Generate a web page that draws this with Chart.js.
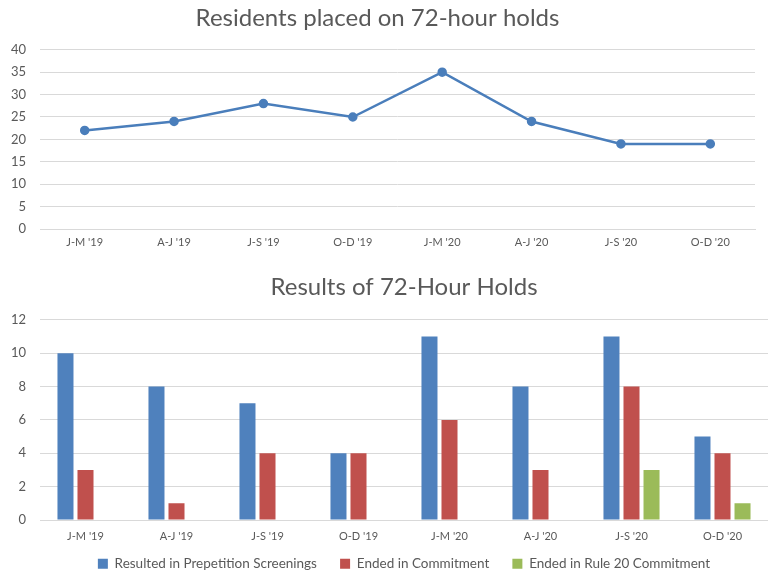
<!DOCTYPE html>
<html>
<head>
<meta charset="utf-8">
<script src="https://cdn.jsdelivr.net/npm/chart.js@4"></script>
<style>
  html, body { margin: 0; padding: 0; background: #fff; }
  #wrap { position: relative; width: 768px; height: 575px; }
  .box { position: absolute; left: 0; width: 768px; }
</style>
</head>
<body>
<div id="wrap">
  <div class="box" style="top:0;height:258px"><canvas id="holdsChart"></canvas></div>
  <div class="box" style="top:258px;height:317px"><canvas id="resultsChart"></canvas></div>
</div>
<script>
// Quarter labels shared by both charts
const quarters = ["J-M '19", "A-J '19", "J-S '19", "O-D '19", "J-M '20", "A-J '20", "J-S '20", "O-D '20"];

// Residents placed on 72-hour holds
const holdCounts = [22, 24, 28, 25, 35, 24, 19, 19];

// Results of 72-hour holds
const prepetitionScreenings = [10, 8, 7, 4, 11, 8, 11, 5];
const endedInCommitment = [3, 1, 4, 4, 6, 3, 8, 4];
const endedInRule20 = [0, 0, 0, 0, 0, 0, 3, 1];

const FONT = 'Lato, "Open Sans", sans-serif';
const TEXT = '#595959';
const GRID = '#D9D9D9';

Chart.defaults.font.family = FONT;
Chart.defaults.color = TEXT;
Chart.defaults.animation = false;

// keep the y axis a fixed width so the plot starts at x=40
function fixWidth(scale) {
  scale.width = 40;
}

new Chart(document.getElementById('holdsChart'), {
  type: 'line',
  data: {
    labels: quarters,
    datasets: [{
      label: 'Residents placed on 72-hour holds',
      data: holdCounts,
      borderColor: '#4A7EBB',
      backgroundColor: '#4A7EBB',
      borderWidth: 2.5,
      pointRadius: 3.5,
      tension: 0
    }]
  },
  options: {
    responsive: true,
    maintainAspectRatio: false,
    layout: { padding: { left: 0, right: 13, top: 0, bottom: 0 } },
    plugins: {
      legend: { display: false },
      tooltip: { enabled: false },
      title: {
        display: true,
        text: 'Residents placed on 72-hour holds',
        color: TEXT,
        font: { size: 24, weight: 'normal' },
        padding: { top: 4, bottom: 17 }
      }
    },
    scales: {
      x: {
        offset: true,
        afterFit: (scale) => { scale.height = 29; },
        grid: { display: false, drawTicks: false },
        border: { color: GRID },
        ticks: { font: { size: 11 }, padding: 7, maxRotation: 0 }
      },
      y: {
        min: 0,
        max: 40,
        afterFit: fixWidth,
        grid: { color: GRID, drawTicks: false },
        border: { display: false },
        ticks: { stepSize: 5, font: { size: 13 }, padding: 14 }
      }
    }
  }
});

new Chart(document.getElementById('resultsChart'), {
  type: 'bar',
  data: {
    labels: quarters,
    datasets: [
      { label: 'Resulted in Prepetition Screenings', data: prepetitionScreenings, backgroundColor: '#4F81BD' },
      { label: 'Ended in Commitment', data: endedInCommitment, backgroundColor: '#C0504D' },
      { label: 'Ended in Rule 20 Commitment', data: endedInRule20, backgroundColor: '#9BBB59' }
    ]
  },
  options: {
    responsive: true,
    maintainAspectRatio: false,
    datasets: { bar: { categoryPercentage: 0.66, barPercentage: 0.8 } },
    // legend sits partly in the bottom padding, so pull it down a little
    layout: { padding: { left: 0, right: 0, top: 0, bottom: -5.5 } },
    plugins: {
      tooltip: { enabled: false },
      title: {
        display: true,
        fullSize: false,
        text: 'Results of 72-Hour Holds',
        color: TEXT,
        font: { size: 24, weight: 'normal' },
        padding: { top: 15, bottom: 18 }
      },
      legend: {
        position: 'bottom',
        fullSize: false,
        labels: {
          boxWidth: 10,
          boxHeight: 10,
          padding: 13,
          font: { size: 13.5 },
          color: TEXT,
          // wider gap between items without adding vertical space
          generateLabels: (chart) => {
            const items = Chart.defaults.plugins.legend.labels.generateLabels(chart);
            items.forEach((item, i) => {
              if (i < items.length - 1) item.text += '\u2003';
            });
            return items;
          }
        }
      }
    },
    scales: {
      x: {
        afterFit: (scale) => { scale.height = 24; },
        grid: { display: false, drawTicks: false },
        border: { color: GRID },
        ticks: { font: { size: 11 }, padding: 10, maxRotation: 0 }
      },
      y: {
        min: 0,
        max: 12,
        afterFit: fixWidth,
        grid: { color: GRID, drawTicks: false },
        border: { display: false },
        ticks: { stepSize: 2, font: { size: 13 }, padding: 14 }
      }
    }
  }
});
</script>
</body>
</html>
